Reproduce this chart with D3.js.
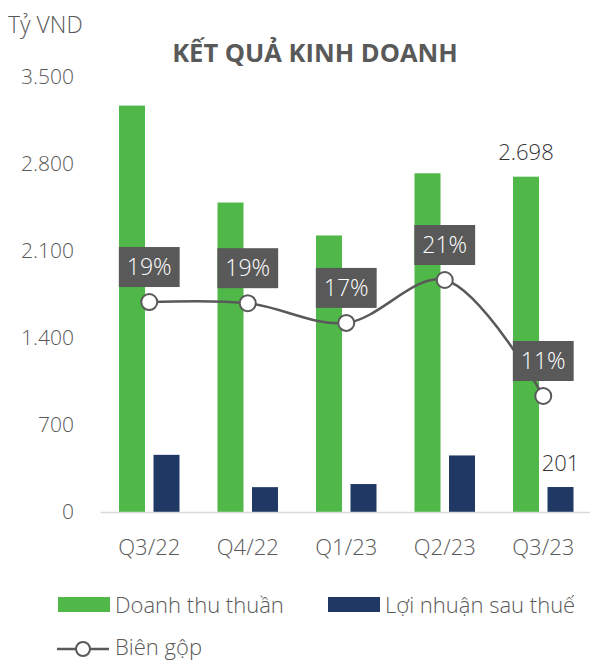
<!DOCTYPE html>
<html>
<head>
<meta charset="utf-8">
<script src="https://cdn.jsdelivr.net/npm/d3@7"></script>
<style>
  body { margin: 0; background: #fff; }
  svg text { font-family: "Open Sans", "Noto Sans", sans-serif; }
</style>
</head>
<body>
<svg id="chart" width="590" height="661"></svg>
<script>
const quarters = ["Q3/22", "Q4/22", "Q1/23", "Q2/23", "Q3/23"];
const revenue = [3270, 2490, 2225, 2725, 2698];
const profit = [460, 200, 225, 455, 201];
const grossMargin = [0.191, 0.190, 0.173, 0.210, 0.110];
const yTicks = [0, 700, 1400, 2100, 2800, 3500];

const green = "#50b848";
const navy = "#203864";
const grey = "#595959";

const svg = d3.select("#chart");
const vn = d3.formatLocale({ decimal: ",", thousands: ".", grouping: [3], currency: ["", ""] });
const fmt = vn.format(",d");

const x = d3.scaleBand().domain(quarters).range([100, 592.5]);
const y = d3.scaleLinear().domain([0, 3500]).range([512, 77]);
const y2 = d3.scaleLinear().domain([0.01, 0.385]).range([512, 77]);

const barW = 26, gap = 8.5;
const groupOff = (x.bandwidth() - (barW * 2 + gap)) / 2;

// title + unit
svg.append("text").attr("x", 8).attr("y", 33)
  .attr("font-size", 23).attr("font-weight", 300).attr("fill", grey).text("Tỷ VND");
svg.append("text").attr("x", 315).attr("y", 62).attr("text-anchor", "middle")
  .attr("font-size", 25.5).attr("font-weight", 700).attr("fill", grey).text("KẾT QUẢ KINH DOANH");

// y axis (labels only)
const ya = svg.append("g").attr("transform", "translate(74,0)")
  .call(d3.axisLeft(y).tickValues(yTicks).tickFormat(fmt).tickSize(0).tickPadding(0));
ya.select(".domain").remove();
ya.selectAll("text").attr("font-size", 21).attr("font-weight", 300).attr("fill", grey);

// bars
svg.selectAll("rect.rev").data(revenue).enter().append("rect")
  .attr("class", "rev")
  .attr("x", (d, i) => x(quarters[i]) + groupOff)
  .attr("y", d => y(d))
  .attr("width", barW)
  .attr("height", d => y(0) - y(d))
  .attr("fill", green);

svg.selectAll("rect.np").data(profit).enter().append("rect")
  .attr("class", "np")
  .attr("x", (d, i) => x(quarters[i]) + groupOff + barW + gap)
  .attr("y", d => y(d))
  .attr("width", barW)
  .attr("height", d => y(0) - y(d))
  .attr("fill", navy);

// x axis
const xa = svg.append("g").attr("transform", `translate(0,${y(0)})`)
  .call(d3.axisBottom(x).tickSize(0).tickPadding(27));
xa.select(".domain").attr("stroke", "#d9d9d9").attr("stroke-width", 1.5);
xa.selectAll("text").attr("font-size", 22).attr("font-weight", 300).attr("fill", grey);

// value labels for last quarter
const last = quarters.length - 1;
svg.append("text")
  .attr("x", x(quarters[last]) + groupOff + barW / 2)
  .attr("y", y(revenue[last]) - 17)
  .attr("text-anchor", "middle").attr("font-size", 22).attr("font-weight", 300).attr("fill", "#333")
  .text(fmt(revenue[last]));
svg.append("text")
  .attr("x", x(quarters[last]) + groupOff + barW * 1.5 + gap)
  .attr("y", y(profit[last]) - 16)
  .attr("text-anchor", "middle").attr("font-size", 22).attr("font-weight", 300).attr("fill", "#333")
  .text(fmt(profit[last]));

// margin line
const cx = (d, i) => x(quarters[i]) + x.bandwidth() / 2;
const line = d3.line().x(cx).y(d => y2(d)).curve(d3.curveCatmullRom);
svg.append("path").datum(grossMargin)
  .attr("d", line).attr("fill", "none").attr("stroke", grey).attr("stroke-width", 2.5);

svg.selectAll("circle.m").data(grossMargin).enter().append("circle")
  .attr("class", "m")
  .attr("cx", cx).attr("cy", d => y2(d)).attr("r", 8)
  .attr("fill", "#fff").attr("stroke", grey).attr("stroke-width", 2);

// margin labels in boxes
const pct = d3.format(".0%");
grossMargin.forEach((d, i) => {
  const g = svg.append("g");
  const t = g.append("text")
    .attr("x", cx(d, i)).attr("y", y2(d) - 15 - 12)
    .attr("text-anchor", "middle").attr("font-size", 23).attr("font-weight", 300).attr("fill", "#fff")
    .text(pct(d));
  const bb = t.node().getBBox();
  g.insert("rect", "text")
    .attr("x", cx(d, i) - bb.width / 2 - 8)
    .attr("y", y2(d) - 15 - 40)
    .attr("width", bb.width + 16)
    .attr("height", 40)
    .attr("fill", grey);
});

// legend
const lg = svg.append("g");
lg.append("rect").attr("x", 58).attr("y", 597).attr("width", 52).attr("height", 15).attr("fill", green);
lg.append("text").attr("x", 115).attr("y", 613).attr("font-size", 22).attr("font-weight", 300).attr("fill", grey).text("Doanh thu thuần");
lg.append("rect").attr("x", 328).attr("y", 597).attr("width", 52).attr("height", 15).attr("fill", navy);
lg.append("text").attr("x", 385).attr("y", 613).attr("font-size", 22).attr("font-weight", 300).attr("fill", grey).text("Lợi nhuận sau thuế");
lg.append("line").attr("x1", 57).attr("x2", 109).attr("y1", 649).attr("y2", 649).attr("stroke", grey).attr("stroke-width", 2.5);
lg.append("circle").attr("cx", 83).attr("cy", 649).attr("r", 7).attr("fill", "#fff").attr("stroke", grey).attr("stroke-width", 2);
lg.append("text").attr("x", 115).attr("y", 655).attr("font-size", 22).attr("font-weight", 300).attr("fill", grey).text("Biên gộp");
</script>
</body>
</html>
